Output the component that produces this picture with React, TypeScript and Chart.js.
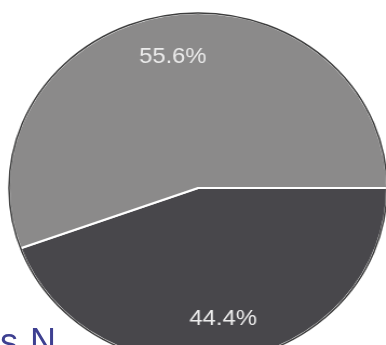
import React, { useEffect, useRef } from "react";
import { Chart, registerables } from "chart.js";

Chart.register(...registerables);

const categories = ["B", "A"];
const values = [44.4, 55.6];
const valueLabels = ["44.4%", "55.6%"];
const sliceColors = ["rgb(72,71,75)", "rgb(139,138,138)"];

const labelPlugin = {
  id: "sliceLabels",
  afterDatasetsDraw(chart: any) {
    const ctx = chart.ctx;
    const meta = chart.getDatasetMeta(0);
    const first = meta.data[0];
    if (!first) return;
    ctx.save();
    ctx.beginPath();
    ctx.arc(first.x, first.y, first.outerRadius, 0, Math.PI * 2);
    ctx.strokeStyle = "rgba(40,40,40,0.9)";
    ctx.lineWidth = 1.5;
    ctx.stroke();
    ctx.restore();
    ctx.save();
    ctx.font = "22px 'Liberation Sans', Arial, sans-serif";
    ctx.fillStyle = "#ececec";
    ctx.textAlign = "center";
    ctx.textBaseline = "middle";
    meta.data.forEach((arc: any, i: number) => {
      const a = (arc.startAngle + arc.endAngle) / 2;
      const r = arc.outerRadius * 0.76;
      ctx.fillText(valueLabels[i], arc.x + Math.cos(a) * r, arc.y + Math.sin(a) * r);
    });
    ctx.restore();
  },
};

export default function App() {
  const ref = useRef<HTMLCanvasElement>(null);
  useEffect(() => {
    if (!ref.current) return;
    const chart = new Chart(ref.current, {
      type: "pie",
      data: {
        labels: categories,
        datasets: [
          {
            data: values,
            backgroundColor: sliceColors,
            borderColor: "#ffffff",
            borderWidth: 2,
          },
        ],
      },
      options: {
        animation: false,
        responsive: true,
        maintainAspectRatio: false,
        rotation: 90,
        layout: { padding: 0 },
        plugins: {
          legend: { display: false },
          tooltip: { enabled: false },
        },
      },
      plugins: [labelPlugin],
    });
    return () => chart.destroy();
  }, []);

  return (
    <div
      style={{
        position: "fixed",
        left: 0,
        top: 0,
        width: 386,
        height: 345,
        overflow: "hidden",
        background: "#ffffff",
      }}
    >
      <div
        style={{
          position: "absolute",
          left: 22,
          top: 12,
          width: 352,
          height: 352,
          transform: "scaleX(1.08)",
          transformOrigin: "center center",
        }}
      >
        <canvas ref={ref} />
      </div>
      <div
        style={{
          position: "absolute",
          left: 0,
          top: 321,
          fontFamily: "'Liberation Sans', Arial, sans-serif",
          fontSize: 36,
          lineHeight: "normal",
          color: "rgb(62,64,145)",
          letterSpacing: 1,
          whiteSpace: "nowrap",
        }}
      >
        s N.
      </div>
    </div>
  );
}
